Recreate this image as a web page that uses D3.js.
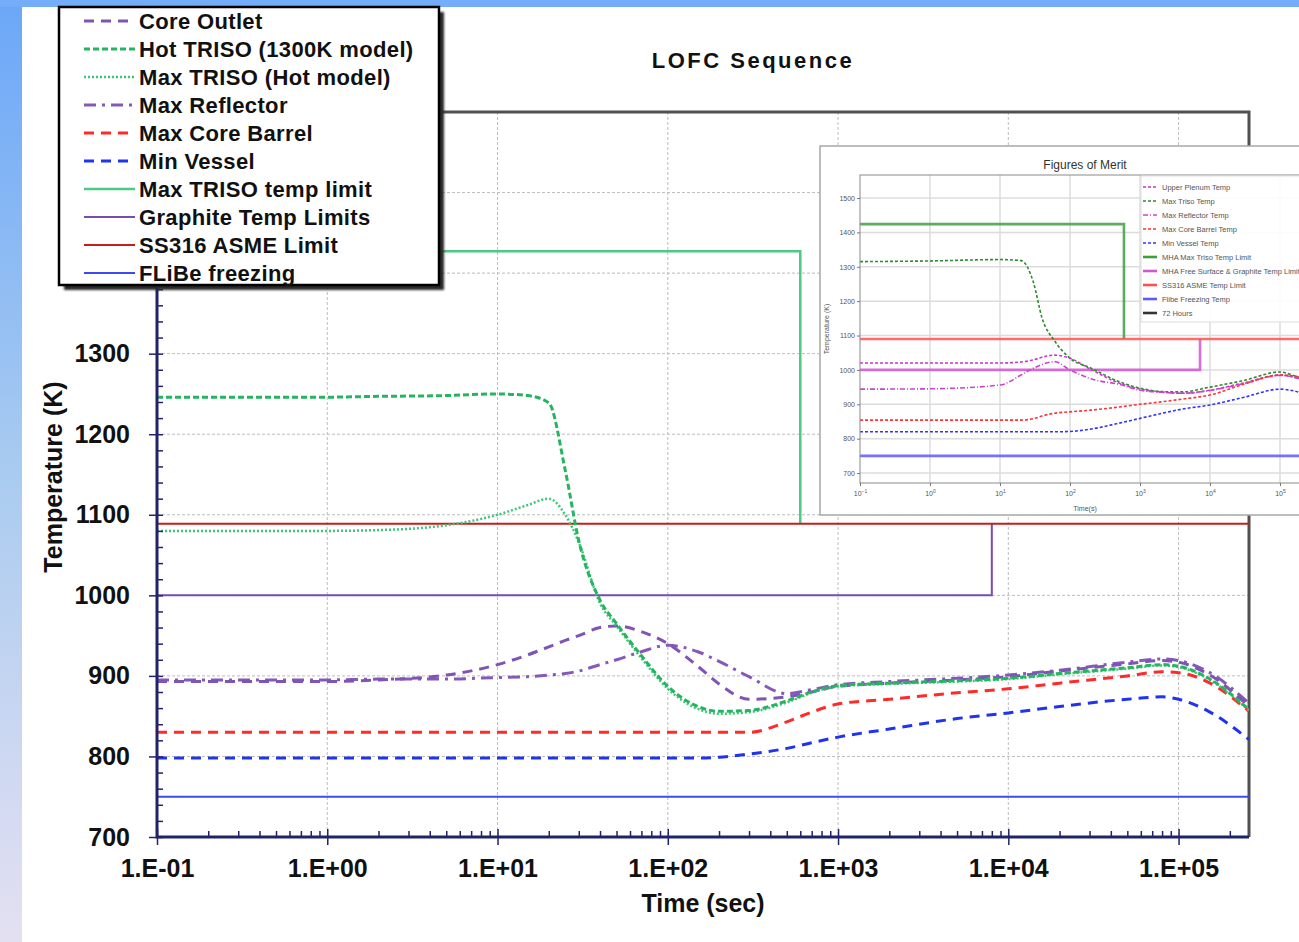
<!DOCTYPE html>
<html>
<head>
<meta charset="utf-8">
<title>LOFC Sequence</title>
<script src="https://cdn.jsdelivr.net/npm/d3@7/dist/d3.min.js"></script>
<style>
  html, body { margin: 0; padding: 0; background: #fff; }
  svg { display: block; }
  text { font-family: "Liberation Sans", Arial, sans-serif; }
</style>
</head>
<body>
<svg id="chart" width="1299" height="942"></svg>
<script>
// ---- main chart data (time in seconds, temperature in K) ----
const times = [0.1, 0.3, 1, 2, 5, 10, 15, 20, 25, 30, 40, 50, 70, 100, 150, 200, 300, 500, 700, 1000, 2000, 5000, 1e4, 2e4, 5e4, 8e4, 1e5, 1.5e5, 259200];
const coreOutlet   = [893, 893, 893, 895, 901, 914, 926, 936, 944, 950, 960, 962, 955, 940, 912, 890, 871, 874, 880, 887, 891, 895, 899, 906, 915, 919, 917, 902, 862];
const hotTriso     = [1246, 1246, 1246, 1247, 1248, 1250, 1248, 1239, 1155, 1068, 994, 965, 925, 887, 862, 856, 857, 869, 880, 888, 891, 894, 897, 903, 910, 914, 912, 897, 858];
const maxTriso     = [1080, 1080, 1080, 1081, 1087, 1100, 1112, 1120, 1100, 1066, 990, 962, 922, 884, 859, 853, 855, 867, 879, 887, 890, 893, 896, 902, 909, 913, 911, 896, 857];
const maxReflector = [895, 895, 895, 896, 896, 898, 899, 901, 903, 906, 914, 920, 930, 938, 930, 918, 899, 878, 883, 889, 893, 897, 901, 907, 917, 921, 919, 905, 866];
const coreBarrel   = [830, 830, 830, 830, 830, 830, 830, 830, 830, 830, 830, 830, 830, 830, 830, 830, 830, 843, 855, 865, 871, 879, 884, 891, 900, 905, 904, 892, 856];
const minVessel    = [798, 798, 798, 798, 798, 798, 798, 798, 798, 798, 798, 798, 798, 798, 798, 799, 803, 810, 817, 824, 834, 847, 854, 862, 871, 874, 871, 856, 821];

// limit lines (step shapes)
const trisoLimitT = [0.1, 600, 600];
const trisoLimitV = [1427, 1427, 1089];
const graphiteLimitT = [0.1, 8000, 8000];
const graphiteLimitV = [1000, 1000, 1089];
const ss316LimitT = [0.1, 259200];
const ss316LimitV = [1089, 1089];
const flibeT = [0.1, 259200];
const flibeV = [750, 750];

const xTicks = [0.1, 1, 10, 100, 1000, 1e4, 1e5];
const xTickLabels = ['1.E-01', '1.E+00', '1.E+01', '1.E+02', '1.E+03', '1.E+04', '1.E+05'];
const yTicks = [700, 800, 900, 1000, 1100, 1200, 1300, 1400, 1500, 1600];

// ---- inset ("Figures of Merit") data ----
const insetTimes     = [0.1, 1, 10, 20, 30, 40, 60, 100, 200, 500, 1000, 2000, 4000, 1e4, 3e4, 1e5, 1.5e5, 2e5];
const insetPlenum    = [1020, 1020, 1020, 1023, 1029, 1037, 1043, 1034, 1001, 962, 944, 936, 932, 941, 962, 985, 980, 972];
const insetTriso     = [1315, 1317, 1321, 1318, 1255, 1150, 1085, 1034, 1005, 966, 947, 937, 936, 950, 969, 994, 985, 976];
const insetReflector = [944, 945, 956, 985, 1005, 1016, 1024, 1000, 974, 958, 941, 935, 932, 940, 960, 984, 980, 972];
const insetBarrel    = [854, 854, 854, 854, 858, 866, 874, 878, 883, 892, 900, 907, 915, 927, 958, 985, 983, 978];
const insetVessel    = [820, 820, 820, 820, 820, 820, 820, 821, 828, 845, 859, 873, 886, 898, 920, 944, 940, 933];
const insetTrisoLimitT = [0.1, 590, 590];
const insetTrisoLimitV = [1424, 1424, 1090];
const insetGraphiteLimitT = [0.1, 7200, 7200];
const insetGraphiteLimitV = [1000, 1000, 1090];
const insetSS316T = [0.1, 1e6];
const insetSS316V = [1090, 1090];
const insetFlibeT = [0.1, 1e6];
const insetFlibeV = [750, 750];
const insetXTicks = [0.1, 1, 10, 100, 1000, 1e4, 1e5];
const insetXExp = ['\u22121', '0', '1', '2', '3', '4', '5'];
const insetYTicks = [700, 800, 900, 1000, 1100, 1200, 1300, 1400, 1500];
const insetLegendLabels = ['Upper Plenum Temp', 'Max Triso Temp', 'Max Reflector Temp', 'Max Core Barrel Temp',
  'Min Vessel Temp', 'MHA Max Triso Temp Limit', 'MHA Free Surface & Graphite Temp Limit',
  'SS316 ASME Temp Limit', 'Flibe Freezing Temp', '72 Hours'];

const zip = (ts, vs) => ts.map((t, i) => [t, vs[i]]);

document.addEventListener('DOMContentLoaded', function() {
  const svg = d3.select('#chart');
  drawBackground(svg);
  drawMainChart(svg);
  drawInset(svg);
  drawLegend(svg);
});

function drawBackground(svg) {
  const defs = svg.append('defs');
  const grad = defs.append('linearGradient').attr('id', 'sideFade')
    .attr('x1', 0).attr('y1', 0).attr('x2', 0).attr('y2', 1);
  grad.append('stop').attr('offset', '0%').attr('stop-color', '#6ba7f8');
  grad.append('stop').attr('offset', '50%').attr('stop-color', '#a9cbf0');
  grad.append('stop').attr('offset', '100%').attr('stop-color', '#e4e0f2');

  const shadow = defs.append('filter').attr('id', 'soft');
  shadow.append('feGaussianBlur').attr('stdDeviation', 1);

  svg.append('rect').attr('width', 1299).attr('height', 942).attr('fill', '#fff');
  svg.append('rect').attr('x', 0).attr('y', 0).attr('width', 22).attr('height', 942).attr('fill', 'url(#sideFade)');
  svg.append('rect').attr('x', 0).attr('y', 0).attr('width', 1299).attr('height', 7).attr('fill', '#74adf9');
}

const mainStyles = {
  trisoLimit:    { color: '#4cc985', width: 2.5, dash: null },
  graphiteLimit: { color: '#7a4bb3', width: 2, dash: null },
  ss316:         { color: '#c41e1e', width: 2, dash: null },
  flibe:         { color: '#3a4cf0', width: 2, dash: null },
  coreOutlet:    { color: '#7f54b5', width: 3, dash: '10,7' },
  maxReflector:  { color: '#8658b8', width: 3, dash: '12,6,3,6' },
  coreBarrel:    { color: '#ff2a2a', width: 3, dash: '10,7' },
  minVessel:     { color: '#1f33f0', width: 3, dash: '10,7' },
  maxTriso:      { color: '#3cc878', width: 2.5, dash: '2,2' },
  hotTriso:      { color: '#25b460', width: 3, dash: '6,3' }
};

function drawMainChart(svg) {
  const left = 157, right = 1249, top = 112, bottom = 837;
  const x = d3.scaleLog().domain([0.1, 259200]).range([left, right]);
  const y = d3.scaleLinear().domain([700, 1600]).range([bottom, top]);
  const axisColor = '#22226a';

  svg.append('clipPath').attr('id', 'plotClip')
    .append('rect').attr('x', left).attr('y', top).attr('width', right - left).attr('height', bottom - top);

  // grid
  const grid = svg.append('g').attr('stroke', '#bdbdbd').attr('stroke-width', 1).attr('stroke-dasharray', '3,2');
  grid.selectAll('line.vx').data(xTicks.slice(1)).enter().append('line')
    .attr('x1', d => x(d)).attr('x2', d => x(d)).attr('y1', top).attr('y2', bottom);
  grid.selectAll('line.hy').data(yTicks.slice(1, -1)).enter().append('line')
    .attr('x1', left).attr('x2', right).attr('y1', d => y(d)).attr('y2', d => y(d));

  // top / right frame
  svg.append('path')
    .attr('d', `M${left},${top}H${right}V${bottom}`)
    .attr('fill', 'none').attr('stroke', '#505050').attr('stroke-width', 3);

  const stepLine = d3.line().x(d => x(d[0])).y(d => y(d[1]));
  const smoothLine = d3.line().x(d => x(d[0])).y(d => y(d[1])).curve(d3.curveMonotoneX);

  const plot = svg.append('g').attr('clip-path', 'url(#plotClip)');
  const limits = [
    [zip(trisoLimitT, trisoLimitV), mainStyles.trisoLimit],
    [zip(graphiteLimitT, graphiteLimitV), mainStyles.graphiteLimit],
    [zip(ss316LimitT, ss316LimitV), mainStyles.ss316],
    [zip(flibeT, flibeV), mainStyles.flibe]
  ];
  limits.forEach(([pts, st]) => {
    plot.append('path').attr('d', stepLine(pts)).attr('fill', 'none')
      .attr('stroke', st.color).attr('stroke-width', st.width);
  });

  const series = [
    [minVessel, mainStyles.minVessel],
    [coreBarrel, mainStyles.coreBarrel],
    [maxReflector, mainStyles.maxReflector],
    [coreOutlet, mainStyles.coreOutlet],
    [maxTriso, mainStyles.maxTriso],
    [hotTriso, mainStyles.hotTriso]
  ];
  series.forEach(([vals, st]) => {
    plot.append('path').attr('d', smoothLine(zip(times, vals))).attr('fill', 'none')
      .attr('stroke', st.color).attr('stroke-width', st.width)
      .attr('stroke-dasharray', st.dash);
  });

  // axes
  const xMinor = [];
  xTicks.forEach(d => { for (let k = 2; k <= 9; k++) if (d * k <= 259200) xMinor.push(d * k); });
  const yMinor = d3.range(700, 1601, 20);

  const styleAxis = g => {
    g.select('.domain').remove();
    g.selectAll('.tick line').attr('stroke', axisColor).attr('stroke-width', 1.5);
    g.selectAll('.tick text').attr('fill', '#111').attr('font-size', 25).attr('font-weight', 'bold');
  };

  svg.append('g').attr('transform', `translate(0,${bottom})`)
    .call(d3.axisBottom(x).tickValues(xMinor).tickSize(-6).tickFormat(''))
    .call(styleAxis);
  svg.append('g').attr('transform', `translate(0,${bottom})`)
    .call(d3.axisBottom(x).tickValues(xTicks).tickSize(-8).tickFormat(''))
    .call(styleAxis);
  svg.append('g').attr('transform', `translate(0,${bottom})`)
    .call(d3.axisBottom(x).tickValues(xTicks).tickSize(8).tickPadding(14)
      .tickFormat((d, i) => xTickLabels[i]))
    .call(styleAxis);

  svg.append('g').attr('transform', `translate(${left},0)`)
    .call(d3.axisLeft(y).tickValues(yMinor).tickSize(-6).tickFormat(''))
    .call(styleAxis);
  svg.append('g').attr('transform', `translate(${left},0)`)
    .call(d3.axisLeft(y).tickValues(yTicks).tickSize(8).tickPadding(19).tickFormat(d3.format('d')))
    .call(styleAxis);

  // axis lines
  svg.append('path').attr('d', `M${left},${top}V${bottom}H${right}`)
    .attr('fill', 'none').attr('stroke', axisColor).attr('stroke-width', 3);

  // titles
  svg.append('text').attr('x', 753).attr('y', 68).attr('text-anchor', 'middle')
    .attr('font-size', 22).attr('font-weight', 'bold').attr('letter-spacing', 2.5).attr('fill', '#111')
    .text('LOFC Sequence');
  svg.append('text').attr('x', 703).attr('y', 912).attr('text-anchor', 'middle')
    .attr('font-size', 25).attr('font-weight', 'bold').attr('fill', '#111')
    .text('Time (sec)');
  svg.append('text').attr('transform', 'translate(62,477) rotate(-90)').attr('text-anchor', 'middle')
    .attr('font-size', 25).attr('font-weight', 'bold').attr('fill', '#111')
    .text('Temperature (K)');
}

const insetStyles = [
  { color: '#cc33cc', width: 1.6, dash: '3,2' },
  { color: '#2e8b2e', width: 1.6, dash: '3,2' },
  { color: '#cc44cc', width: 1.6, dash: '5,2,1,2' },
  { color: '#ff3333', width: 1.6, dash: '3,2' },
  { color: '#3333ff', width: 1.6, dash: '3,2' },
  { color: '#3f9f3f', width: 2.6, dash: null },
  { color: '#d255d2', width: 2.6, dash: null },
  { color: '#ff5050', width: 2.6, dash: null },
  { color: '#5a5aff', width: 2.6, dash: null },
  { color: '#333333', width: 2.6, dash: null }
];

function drawInset(svg) {
  const left = 860, right = 1350, top = 175, bottom = 483;
  const x = d3.scaleLog().domain([0.1, 1e6]).range([left, right]);
  const y = d3.scaleLinear().domain([671, 1567]).range([bottom, top]);
  const g = svg.append('g');

  g.append('rect').attr('x', 820).attr('y', 146).attr('width', 520).attr('height', 369)
    .attr('fill', '#fff').attr('stroke', '#a8a8a8').attr('stroke-width', 1.5);

  g.append('text').attr('x', 1085).attr('y', 169).attr('text-anchor', 'middle')
    .attr('font-size', 12).attr('fill', '#333').text('Figures of Merit');

  // grid
  const grid = g.append('g').attr('stroke', '#dcdcdc').attr('stroke-width', 1.5);
  grid.selectAll('line.v').data(insetXTicks.slice(1)).enter().append('line')
    .attr('x1', d => x(d)).attr('x2', d => x(d)).attr('y1', top).attr('y2', bottom);
  grid.selectAll('line.h').data(insetYTicks).enter().append('line')
    .attr('x1', left).attr('x2', right).attr('y1', d => y(d)).attr('y2', d => y(d));

  const stepLine = d3.line().x(d => x(d[0])).y(d => y(d[1]));
  const smoothLine = d3.line().x(d => x(d[0])).y(d => y(d[1])).curve(d3.curveMonotoneX);

  const limits = [
    [zip(insetTrisoLimitT, insetTrisoLimitV), insetStyles[5]],
    [zip(insetGraphiteLimitT, insetGraphiteLimitV), insetStyles[6]],
    [zip(insetSS316T, insetSS316V), insetStyles[7]],
    [zip(insetFlibeT, insetFlibeV), insetStyles[8]]
  ];
  limits.forEach(([pts, st]) => {
    g.append('path').attr('d', stepLine(pts)).attr('fill', 'none')
      .attr('stroke', st.color).attr('stroke-width', st.width).attr('opacity', 0.85);
  });

  const series = [insetPlenum, insetTriso, insetReflector, insetBarrel, insetVessel];
  series.forEach((vals, i) => {
    const st = insetStyles[i];
    g.append('path').attr('d', smoothLine(zip(insetTimes, vals))).attr('fill', 'none')
      .attr('stroke', st.color).attr('stroke-width', st.width).attr('stroke-dasharray', st.dash);
  });

  g.append('rect').attr('x', left).attr('y', top).attr('width', right - left).attr('height', bottom - top)
    .attr('fill', 'none').attr('stroke', '#8a8a8a').attr('stroke-width', 1);

  // axes
  const xAxis = g.append('g').attr('transform', `translate(0,${bottom})`)
    .call(d3.axisBottom(x).tickValues(insetXTicks).tickSize(3).tickPadding(4).tickFormat(''));
  xAxis.selectAll('.tick text').each(function(d, i) {
    const t = d3.select(this).attr('dy', '0.9em');
    t.append('tspan').text('10');
    t.append('tspan').attr('dy', -3).attr('font-size', 5).text(insetXExp[i]);
  });
  const yAxis = g.append('g').attr('transform', `translate(${left},0)`)
    .call(d3.axisLeft(y).tickValues(insetYTicks).tickSize(3).tickPadding(2).tickFormat(d3.format('d')));
  [xAxis, yAxis].forEach(a => {
    a.select('.domain').remove();
    a.selectAll('.tick line').attr('stroke', '#777');
    a.selectAll('.tick text').attr('fill', '#555').attr('font-size', 7);
  });

  g.append('text').attr('x', 1085).attr('y', 511).attr('text-anchor', 'middle')
    .attr('font-size', 7).attr('fill', '#555').text('Time(s)');
  g.append('text').attr('transform', 'translate(829,329) rotate(-90)').attr('text-anchor', 'middle')
    .attr('font-size', 7).attr('fill', '#555').text('Temperature (K)');

  // inset legend
  const lg = g.append('g');
  lg.append('rect').attr('x', 1141).attr('y', 176).attr('width', 180).attr('height', 146)
    .attr('fill', '#fff').attr('fill-opacity', 0.9).attr('stroke', '#dddddd');
  insetLegendLabels.forEach((label, i) => {
    const st = insetStyles[i];
    const cy = 187 + i * 14;
    lg.append('line').attr('x1', 1143).attr('x2', 1157).attr('y1', cy).attr('y2', cy)
      .attr('stroke', st.color).attr('stroke-width', st.width).attr('stroke-dasharray', st.dash);
    lg.append('text').attr('x', 1162).attr('y', cy + 2.5).attr('font-size', 7.5).attr('fill', '#555')
      .text(label);
  });
}

function drawLegend(svg) {
  const items = [
    ['Core Outlet', mainStyles.coreOutlet],
    ['Hot TRISO (1300K model)', mainStyles.hotTriso],
    ['Max TRISO (Hot model)', mainStyles.maxTriso],
    ['Max Reflector', mainStyles.maxReflector],
    ['Max Core Barrel', mainStyles.coreBarrel],
    ['Min Vessel', mainStyles.minVessel],
    ['Max TRISO temp limit', mainStyles.trisoLimit],
    ['Graphite Temp Limits', mainStyles.graphiteLimit],
    ['SS316 ASME Limit', mainStyles.ss316],
    ['FLiBe freezing', mainStyles.flibe]
  ];
  const g = svg.append('g');
  g.append('rect').attr('x', 64).attr('y', 12).attr('width', 380).attr('height', 278)
    .attr('fill', '#2a2a2a').attr('filter', 'url(#soft)');
  g.append('rect').attr('x', 59).attr('y', 7).attr('width', 380).attr('height', 278)
    .attr('fill', '#fff').attr('stroke', '#000').attr('stroke-width', 2.5);

  items.forEach(([label, st], i) => {
    const cy = 21 + i * 28;
    g.append('line').attr('x1', 84).attr('x2', 135).attr('y1', cy).attr('y2', cy)
      .attr('stroke', st.color).attr('stroke-width', st.width).attr('stroke-dasharray', st.dash);
    g.append('text').attr('x', 139).attr('y', cy + 8).attr('letter-spacing', 0.35)
      .attr('font-size', 22).attr('font-weight', 'bold').attr('fill', '#111').text(label);
  });
}
</script>
</body>
</html>
